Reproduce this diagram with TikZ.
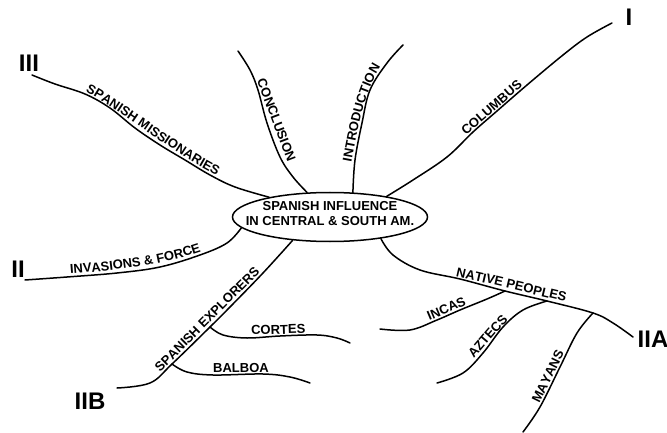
\documentclass[tikz,border=0pt]{standalone}
\usepackage{fontspec}
\setmainfont{Liberation Sans}
\usetikzlibrary{shapes.geometric,decorations.text}
\newcommand\lbf{\fontsize{13}{13}\selectfont\bfseries}
\begin{document}
\begin{tikzpicture}[x=1pt,y=-1pt,
  br/.style={line width=1.5pt, line cap=round, line join=round},
  lbl/.style={decorate, decoration={text along path, text={|\lbf|#1}, text align=center, raise=2.4pt}},
  num/.style={font=\fontsize{24}{24}\selectfont\bfseries, inner sep=0pt},
  hub/.style={ellipse, draw, line width=1.5pt, minimum width=195pt, minimum height=49pt, inner sep=0pt},
  hubtext/.style={align=center, inner sep=0pt, font=\fontsize{13}{15}\selectfont\bfseries}]
\useasboundingbox (0,0) rectangle (667,433);
\fill[white] (0,0) rectangle (667,433);

% hub
\node[hub] (c) at (330,217) {};
\node[hubtext] (ct) at (330,214) {SPANISH INFLUENCE\\IN CENTRAL \& SOUTH AM.};

% roman numerals
\node[num] (r3) at (29,63) {III};
\node[num] (r1) at (629,17) {I};
\node[num] (r2) at (18,269) {II};
\node[num] (r2b) at (90,401) {IIB};
\node[num] (r2a) at (653,339) {IIA};

% free ends and junctions
\coordinate (e3) at (32,75);
\coordinate (econ) at (238,51);
\coordinate (eint) at (403,45);
\coordinate (e1) at (612,23);
\coordinate (e2) at (25,280);
\coordinate (e2b) at (117,388);
\coordinate (e2a) at (633,337);
\coordinate (jc) at (210,327);
\coordinate (jb) at (172,364);
\coordinate (ji) at (505,291);
\coordinate (ja) at (547,301);
\coordinate (jm) at (593,313);
\coordinate (ecor) at (350,343);
\coordinate (ebal) at (310,383);
\coordinate (einc) at (380,329);
\coordinate (eazt) at (437,383);
\coordinate (emay) at (523,432);

% main branches
\draw[br] plot[smooth,tension=0.6] coordinates {(e3) (55,84) (85,94) (110,108) (135,128) (160,145) (185,160) (210,175) (235,187) (c.162)};
\draw[br] plot[smooth,tension=0.6] coordinates {(econ) (250,70) (258,90) (267,123) (280,157) (293,177) (c.133)};
\draw[br] plot[smooth,tension=0.6] coordinates {(c.47) (355,160) (362,123) (370,90) (387,63) (eint)};
\draw[br] plot[smooth,tension=0.6] coordinates {(c.20) (413,180) (447,157) (473,132) (497,111) (527,85) (563,55) (587,37) (e1)};
\draw[br] plot[smooth,tension=0.6] coordinates {(e2) (67,277) (117,273) (160,267) (200,255) (227,243) (c.187)};
\draw[br] plot[smooth,tension=0.6] coordinates {(e2b) (150,383) (jb) (jc) (230,307) (263,273) (c.212)};
\draw[br] plot[smooth,tension=0.6] coordinates {(c.337) (393,255) (420,270) (460,279) (ji) (ja) (jm) (613,323) (e2a)};

% sub branches
\draw[br] plot[smooth,tension=0.6] coordinates {(jc) (223,335) (247,338) (280,336) (317,335) (337,338) (ecor)};
\draw[br] plot[smooth,tension=0.6] coordinates {(jb) (187,372) (213,375) (263,374) (290,377) (ebal)};
\draw[br] plot[smooth,tension=0.6] coordinates {(einc) (410,330) (437,320) (460,310) (487,299) (ji)};
\draw[br] plot[smooth,tension=0.6] coordinates {(eazt) (463,373) (483,353) (503,327) (523,310) (ja)};
\draw[br] plot[smooth,tension=0.6] coordinates {(emay) (540,407) (560,367) (577,333) (jm)};

% labels along the branches
\path[lbl={SPANISH MISSIONARIES}] (85,94) .. controls (118,112) and (170,154) .. (215,177);
\path[lbl={CONCLUSION}] (254,80) -- (286,165);
\path[lbl={INTRODUCTION}] (352,172) .. controls (361,125) and (366,90) .. (388,60);
\path[lbl={COLUMBUS}] (455,148) -- (537,77);
\path[lbl={INVASIONS {\&} FORCE}] (62,277) .. controls (120,273) and (170,266) .. (210,251);
\path[lbl={SPANISH EXPLORERS}] (156,380) -- (268,268);
\path[lbl={NATIVE PEOPLES}] (448,277) .. controls (480,284) and (530,296) .. (572,306);
\path[lbl={CORTES}] (245,337.5) -- (312,335.5);
\path[lbl={BALBOA}] (210,375) -- (272,374.5);
\path[lbl={INCAS}] (423,326) -- (475,304);
\path[lbl={AZTECS}] (468,368) .. controls (485,352) and (495,335) .. (518,314);
\path[lbl={MAYANS}] (539,410) -- (569,349);
\end{tikzpicture}
\end{document}
